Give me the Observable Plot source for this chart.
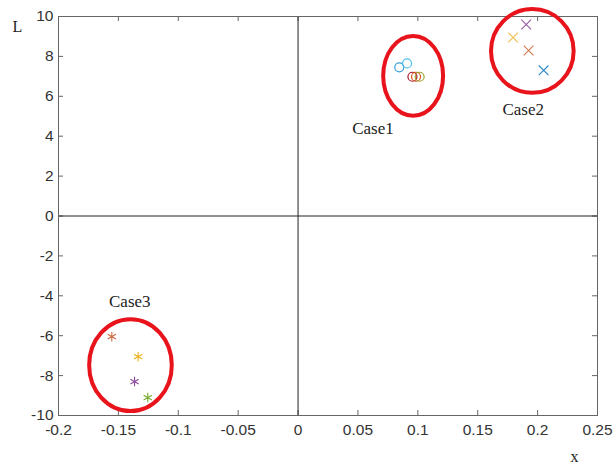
<!DOCTYPE html>
<html><head><meta charset="utf-8">
<script src="https://cdn.jsdelivr.net/npm/d3@7"></script>
<script src="https://cdn.jsdelivr.net/npm/@observablehq/plot@0.6"></script>
<style>body{margin:0;background:#fff}</style>
</head><body><div id="chart"></div>
<script>
const xTicks = [-0.2,-0.15,-0.1,-0.05,0,0.05,0.1,0.15,0.2,0.25];
const yTicks = [-10,-8,-6,-4,-2,0,2,4,6,8,10];
const xTickLabels = ["-0.2","-0.15","-0.1","-0.05","0","0.05","0.1","0.15","0.2","0.25"];
const yTickLabels = ["-10","-8","-6","-4","-2","0","2","4","6","8","10"];

const case1X = [0.0845, 0.091, 0.0955, 0.0985, 0.1015];
const case1Y = [7.45, 7.65, 6.98, 6.98, 6.98];
const case1Colors = ["#3aa0d8", "#4DBEEE", "#A2142F", "#D95319", "#9aa030"];

const case2X = [0.1905, 0.1795, 0.1925, 0.205];
const case2Y = [9.6, 8.95, 8.3, 7.3];
const case2Colors = ["#9a5aa8", "#EDC050", "#d07a50", "#2a88c8"];

const case3X = [-0.1555, -0.1335, -0.1365, -0.1255];
const case3Y = [-6.05, -7.05, -8.3, -9.1];
const case3Colors = ["#d06a40", "#EDB120", "#8a4a9e", "#77AC30"];

const ellipseCX = [0.0965, 0.196, -0.1395];
const ellipseCY = [7.0, 8.25, -7.5];
const ellipseRX = [0.025, 0.0345, 0.0345];
const ellipseRY = [2.0, 2.1, 2.3];

const caseLabels = ["Case1", "Case2", "Case3"];
const labelX = [0.0625, 0.188, -0.1405];
const labelY = [4.4, 5.35, -4.3];

const pts = (xs, ys, cs) => xs.map((x, i) => ({x, y: ys[i], c: cs[i]}));
const c1 = pts(case1X, case1Y, case1Colors);
const c2 = pts(case2X, case2Y, case2Colors);
const c3 = pts(case3X, case3Y, case3Colors);
const ellipses = ellipseCX.map((cx, i) => ({cx, cy: ellipseCY[i], rx: ellipseRX[i], ry: ellipseRY[i]}));
const labels = caseLabels.map((t, i) => ({t, x: labelX[i], y: labelY[i]}));

const ellipseMark = (index, scales) => {
  const g = document.createElementNS("http://www.w3.org/2000/svg", "g");
  for (const e of ellipses) {
    const el = document.createElementNS("http://www.w3.org/2000/svg", "ellipse");
    const cx = scales.x(e.cx), cy = scales.y(e.cy);
    el.setAttribute("cx", cx);
    el.setAttribute("cy", cy);
    el.setAttribute("rx", Math.abs(scales.x(e.cx + e.rx) - cx));
    el.setAttribute("ry", Math.abs(scales.y(e.cy + e.ry) - cy));
    el.setAttribute("fill", "none");
    el.setAttribute("stroke", "#e8131b");
    el.setAttribute("stroke-width", 4);
    g.appendChild(el);
  }
  return g;
};

const sans = "Liberation Sans, Arial, sans-serif";
const plot = Plot.plot({
  width: 614,
  height: 468,
  marginLeft: 58,
  marginRight: 17,
  marginTop: 16,
  marginBottom: 53,
  style: {fontFamily: sans, fontSize: "15px", color: "#333", background: "#fff"},
  x: {domain: [-0.2, 0.25], axis: null},
  y: {domain: [-10, 10], axis: null},
  marks: [
    Plot.text(xTicks, {x: d => d, frameAnchor: "bottom", dy: 19, text: (d, i) => xTickLabels[i], fontSize: 15.5, fontFamily: sans, fill: "#333"}),
    Plot.text(yTicks, {y: d => d, frameAnchor: "left", dx: -5, textAnchor: "end", text: (d, i) => yTickLabels[i], fontSize: 15.5, fontFamily: sans, fill: "#333"}),
    Plot.ruleX(xTicks, {x: d => d, y1: -10, y2: -9.75, stroke: "#666"}),
    Plot.ruleX(xTicks, {x: d => d, y1: 10, y2: 9.75, stroke: "#666"}),
    Plot.ruleY(yTicks, {y: d => d, x1: -0.2, x2: -0.1958, stroke: "#666"}),
    Plot.ruleY(yTicks, {y: d => d, x1: 0.25, x2: 0.2458, stroke: "#666"}),
    Plot.ruleX([0], {stroke: "#222", strokeWidth: 1}),
    Plot.ruleY([0], {stroke: "#222", strokeWidth: 1}),
    Plot.frame({stroke: "#666"}),
    ellipseMark,
    Plot.dot(c1, {x: "x", y: "y", stroke: "c", r: 4.5, strokeWidth: 1.2, fill: "none"}),
    Plot.dot(c2, {x: "x", y: "y", stroke: "c", symbol: "times", r: 4.5, strokeWidth: 1.1}),
    Plot.dot(c3, {x: "x", y: "y", stroke: "c", symbol: "asterisk", r: 4.5, strokeWidth: 1.1}),
    Plot.text(labels, {x: "x", y: "y", text: "t", fontFamily: "Liberation Serif, Times New Roman, serif", fontSize: 17, fill: "#222"}),
    Plot.text(["L"], {frameAnchor: "top-left", dx: -46, dy: 4, text: d => d, fontFamily: "Liberation Serif, serif", fontSize: 16, fill: "#222"}),
    Plot.text(["x"], {frameAnchor: "bottom-right", dx: -19, dy: 46, text: d => d, fontFamily: "Liberation Serif, serif", fontSize: 16, fill: "#222"})
  ]
});
document.getElementById("chart").appendChild(plot);
</script>
</body></html>
